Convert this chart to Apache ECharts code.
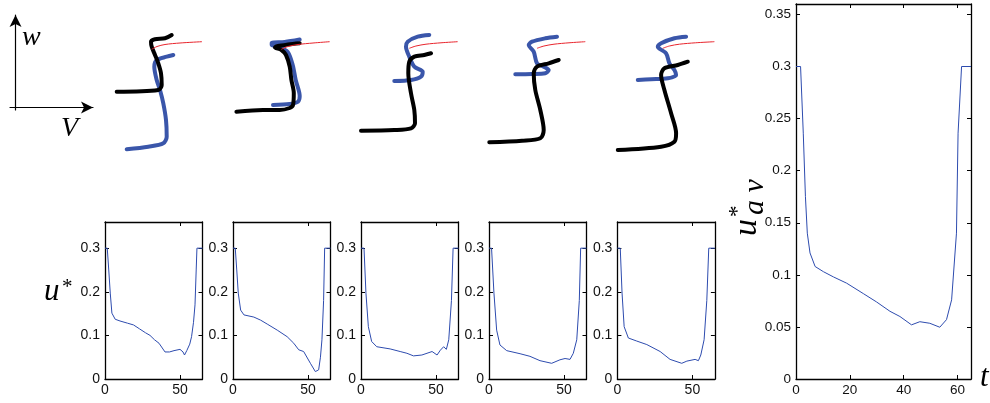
<!DOCTYPE html>
<html>
<head>
<meta charset="utf-8">
<script src="https://cdn.jsdelivr.net/npm/echarts@6/dist/echarts.min.js"></script>
<style>
html, body { margin: 0; padding: 0; background: #fff; }
#chart { width: 990px; height: 403px; }
</style>
</head>
<body>
<div id="chart"></div>
<script>
// --- phase-plane snapshots (V right, w up), one set per snapshot ---
var blueCurves = [
	[[68.3,100],[61.7,98.3],[51.7,95],[49.3,88.3],[51.7,75],[55,65],[58.3,51.7],[61,35],[61.7,18.3],[58.3,11.7],[43.3,8.3],[21.7,5.7]],
	[[40,50],[56.7,51],[65,53.3],[66.7,59],[62.7,75],[59.7,90],[54.7,103],[46.7,108],[38.7,110],[38.7,112],[51.7,113],[66.7,115.5]],
	[[68.3,120],[56.7,118.3],[46.7,113.3],[45,108.3],[48.3,98.3],[53.3,88.3],[61.7,83.3],[60,78.3],[50,75],[33.3,74]],
	[[68,118.3],[56.3,116.7],[43,113.3],[39.7,110],[44.7,103.3],[48,91.7],[54.7,88.3],[59.7,85],[56.3,81.7],[43,81],[26.3,80.7]],
	[[68.7,118.3],[57,116.7],[43.7,111.7],[40.4,108.3],[48.7,101.7],[52,91.7],[57,85],[58.7,80],[50.4,76.7],[33.7,75.7],[20.4,75]]
];
var blackCurves = [
	[[11.7,63.3],[53.3,65],[56.7,70],[56,81.7],[53.3,91.7],[50,100],[46.7,108.3],[46,113.3],[50,115.7],[60,116.7],[66.7,120]],
	[[3.4,43.3],[30,45],[46.7,45],[56.7,47],[60,50],[60.8,62],[58.4,75],[56.7,88.3],[53,100],[48.4,105],[42,107.5],[45,109],[55,110.5],[66.7,111.7]],
	[[0,24.3],[33.3,25],[50,26.7],[54,31.7],[53.3,45],[50,61.7],[47.3,81.7],[48.3,93.3],[53.3,98.3],[63.3,100],[70,101.7]],
	[[0.3,12.7],[33,14.3],[51.3,16.7],[54.7,25],[51.3,45],[46.3,65],[44.7,81.7],[48,88.3],[59.7,91.7],[69.7,95]],
	[[0.4,5],[43.7,8.3],[57,13.3],[58.7,21.7],[53.7,41.7],[47,65],[43.7,80],[47,86.7],[60.4,90],[70.4,93.3]]
];
var redCurves = [
	[[46.7,105.7],[52,108.5],[60,110.5],[75,112],[97,113.3]],
	[[48.3,105.7],[55,108.5],[65,110.5],[80,112],[96.7,113.3]],
	[[48.3,106.7],[55,109],[65,110.8],[80,112.2],[96.7,113.3]],
	[[48,106.7],[55,109],[65,110.8],[80,112.2],[96.3,113.3]],
	[[45.4,106.7],[52,109],[62,110.8],[78,112.2],[97,113.3]]
];

// --- u* against t for each snapshot ---
var uPanel1 = [[0,0.3],[1.5,0.3],[2.5,0.25],[3.5,0.197],[4.6,0.151],[6.8,0.137],[10,0.133],[15,0.128],[19,0.124],[23,0.115],[27,0.106],[30,0.1],[33,0.09],[36,0.082],[40,0.062],[43,0.062],[46,0.065],[50,0.068],[52,0.062],[53,0.055],[54.5,0.065],[56.5,0.08],[57.7,0.097],[59,0.13],[60,0.17],[60.8,0.25],[61.3,0.3],[65,0.3]];
var uPanel2 = [[0,0.3],[1.5,0.3],[2.5,0.25],[3.5,0.197],[5.1,0.158],[7.3,0.147],[13.9,0.142],[18.4,0.135],[22.8,0.126],[29.5,0.112],[36.1,0.097],[40.5,0.082],[43.8,0.067],[47.1,0.063],[51.6,0.036],[54.9,0.017],[57.1,0.021],[58.3,0.05],[59.3,0.09],[60.4,0.18],[61.1,0.3],[65,0.3]];
var uPanel3 = [[0,0.3],[2,0.3],[3.3,0.197],[4.9,0.12],[7.1,0.086],[10.5,0.074],[19.4,0.069],[26.1,0.063],[30.6,0.059],[35,0.053],[40.6,0.055],[47.4,0.063],[50.7,0.055],[52.9,0.066],[55.1,0.074],[56.9,0.068],[58.5,0.09],[60.3,0.18],[61.4,0.3],[65,0.3]];
var uPanel4 = [[0,0.3],[1.7,0.3],[3.3,0.197],[5.1,0.112],[7.3,0.078],[11.8,0.065],[20.7,0.058],[27.3,0.052],[34,0.042],[41.8,0.036],[47.3,0.044],[50.7,0.047],[54,0.045],[56.2,0.059],[58.5,0.09],[60.2,0.18],[61.1,0.3],[65,0.3]];
var uPanel5 = [[0,0.3],[1.9,0.3],[3.1,0.197],[4.5,0.12],[7.3,0.094],[12.9,0.087],[19.6,0.079],[28.5,0.063],[35.1,0.045],[42.9,0.036],[46.3,0.041],[51.8,0.045],[54,0.042],[55.6,0.055],[57.8,0.09],[59.6,0.18],[60.9,0.3],[65,0.3]];
var uPanels = [uPanel1, uPanel2, uPanel3, uPanel4, uPanel5];

// --- averaged u*_av against t ---
var uAverage = [[0,0.3],[1.7,0.3],[2.7,0.236],[3.5,0.175],[4.2,0.14],[5.2,0.121],[7.1,0.108],[10.2,0.103],[13.9,0.098],[18.8,0.092],[25,0.082],[29.9,0.074],[34.9,0.065],[38.6,0.06],[42.9,0.052],[46,0.055],[49.7,0.0535],[53.4,0.0497],[55.9,0.057],[57.8,0.076],[59.6,0.14],[60.2,0.236],[61.5,0.3],[65,0.3]];

var smallXTicks = [0, 50];
var smallYTicks = [0, 0.1, 0.2, 0.3];
var bigXTicks = [0, 20, 40, 60];
var bigYTicks = [0, 0.05, 0.1, 0.15, 0.2, 0.25, 0.3, 0.35];

var panelLefts = [105, 233, 361, 489, 617.4];
var chart = echarts.init(document.getElementById('chart'));
var option = { animation: false, grid: [], xAxis: [], yAxis: [], series: [], graphic: [] };

function tickFormatter(ticks) {
	return function (v) {
		for (var i = 0; i < ticks.length; i++) {
			if (Math.abs(ticks[i] - v) < 1e-9) return String(ticks[i]);
		}
		return '';
	};
}

// framed plot with inward ticks on all four sides
function addFrame(box, xTicks, xMax, yTicks, yMax, fs) {
	var g = option.grid.length;
	option.grid.push({ left: box[0], top: box[1], width: box[2], height: box[3] });
	var xi = option.xAxis.length, yi = option.yAxis.length;
	['bottom', 'top'].forEach(function (pos, k) {
		option.xAxis.push({
			gridIndex: g, type: 'value', position: pos, min: 0, max: xMax,
			interval: xTicks[1] - xTicks[0],
			axisLine: { onZero: false, lineStyle: { color: '#000', width: 1.3 } },
			axisTick: { inside: true, length: 4, lineStyle: { color: '#000' } },
			axisLabel: { show: k === 0, margin: 4, color: '#111', fontSize: fs,
				fontFamily: 'Liberation Sans, Arial', formatter: tickFormatter(xTicks) },
			splitLine: { show: false }
		});
	});
	['left', 'right'].forEach(function (pos, k) {
		option.yAxis.push({
			gridIndex: g, type: 'value', position: pos, min: 0, max: yMax,
			interval: yTicks[1] - yTicks[0],
			axisLine: { onZero: false, lineStyle: { color: '#000', width: 1.3 } },
			axisTick: { inside: true, length: 4, lineStyle: { color: '#000' } },
			axisLabel: { show: k === 0, margin: 5, color: '#111', fontSize: fs,
				fontFamily: 'Liberation Sans, Arial', formatter: tickFormatter(yTicks) },
			splitLine: { show: false }
		});
	});
	return { x: xi, y: yi };
}

// bare grid for the phase-plane curves
function addBare(box) {
	var g = option.grid.length;
	option.grid.push({ left: box[0], top: box[1], width: box[2], height: box[3] });
	var xi = option.xAxis.length, yi = option.yAxis.length;
	option.xAxis.push({ gridIndex: g, type: 'value', min: 0, max: 97.5, show: false });
	option.yAxis.push({ gridIndex: g, type: 'value', min: 0, max: 125, show: false });
	return { x: xi, y: yi };
}

// V / w direction arrows
(function () {
	var g = option.grid.length;
	option.grid.push({ left: 10, top: 15, width: 83, height: 95 });
	var arrowLine = { onZero: true, symbol: ['none', 'arrow'], symbolSize: [9, 12],
		lineStyle: { color: '#000', width: 1.2 } };
	option.xAxis.push({ gridIndex: g, type: 'value', min: -1, max: 14, axisLine: arrowLine,
		axisTick: { show: false }, axisLabel: { show: false }, splitLine: { show: false } });
	option.yAxis.push({ gridIndex: g, type: 'value', min: -0.5, max: 18.5, axisLine: arrowLine,
		axisTick: { show: false }, axisLabel: { show: false }, splitLine: { show: false } });
})();

for (var i = 0; i < 5; i++) {
	var phase = addBare([panelLefts[i], 30, 97.5, 125]);
	var thick = { xAxisIndex: phase.x, yAxisIndex: phase.y, type: 'line', showSymbol: false, smooth: 0.3 };
	option.series.push(Object.assign({}, thick, { data: blueCurves[i],
		lineStyle: { color: '#3a56aa', width: 4, cap: 'round', join: 'round' } }));
	option.series.push(Object.assign({}, thick, { data: blackCurves[i],
		lineStyle: { color: '#000', width: 4, cap: 'round', join: 'round' } }));
	option.series.push(Object.assign({}, thick, { data: redCurves[i],
		lineStyle: { color: '#e8242c', width: 1 } }));

	var ax = addFrame([panelLefts[i], 222, 97.5, 157], smallXTicks, 65, smallYTicks, 0.36, 14);
	option.series.push({ xAxisIndex: ax.x, yAxisIndex: ax.y, type: 'line', showSymbol: false,
		data: uPanels[i], lineStyle: { color: '#2d4bae', width: 1 } });
}

var big = addFrame([796, 4, 175, 375], bigXTicks, 65, bigYTicks, 0.36, 13.5);
option.series.push({ xAxisIndex: big.x, yAxisIndex: big.y, type: 'line', showSymbol: false,
	data: uAverage, lineStyle: { color: '#2d4bae', width: 1 } });

var serif = 'Liberation Serif, DejaVu Serif, serif';
option.graphic = [
	{ type: 'text', left: 22, top: 24, style: { text: 'w', font: 'italic 28px ' + serif, fill: '#000' } },
	{ type: 'text', left: 61, top: 115, style: { text: 'V', font: 'italic 28px ' + serif, fill: '#000' } },
	{ type: 'text', left: 44, top: 276, style: { text: 'u', font: 'italic 31px ' + serif, fill: '#000' } },
	{ type: 'text', left: 62, top: 277, style: { text: '*', font: '21px ' + serif, fill: '#000' } },
	{ type: 'text', left: 980, top: 362, style: { text: 't', font: 'italic 31px ' + serif, fill: '#000' } },
	{ type: 'group', x: 747, y: 236, rotation: Math.PI / 2, children: [
		{ type: 'text', x: 0, y: 0, style: { text: 'u', font: 'italic 34px ' + serif, fill: '#000', verticalAlign: 'middle' } },
		{ type: 'text', x: 19, y: -9, style: { text: '*', font: '23px ' + serif, fill: '#000', verticalAlign: 'middle' } },
		{ type: 'text', x: 21, y: 8, style: { text: 'a v', font: 'italic 30px ' + serif, fill: '#000', verticalAlign: 'middle' } }
	] }
];

chart.setOption(option);
</script>
</body>
</html>
